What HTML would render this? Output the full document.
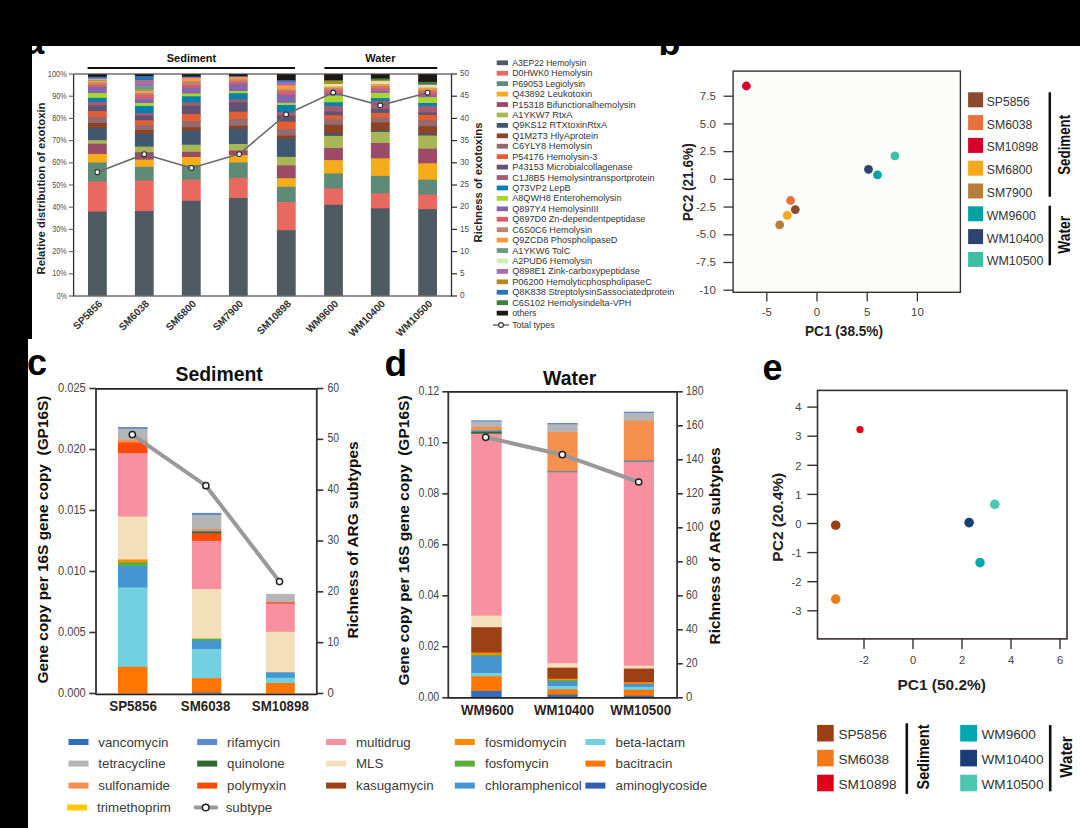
<!DOCTYPE html>
<html><head><meta charset="utf-8"><style>
html,body{margin:0;padding:0;background:#fff;}
body{width:1080px;height:828px;overflow:hidden;}
svg{display:block;font-family:"Liberation Sans", sans-serif;}
</style></head><body>
<svg width="1080" height="828" viewBox="0 0 1080 828" font-family='"Liberation Sans", sans-serif'>
<rect x="0" y="0" width="1080" height="828" fill="#fff"/>
<line x1="74.00" y1="74.00" x2="451.50" y2="74.00" stroke="#6e6e6e" stroke-width="1.3" />
<rect x="88.00" y="74.20" width="18.80" height="3.20" fill="#1B1815" />
<rect x="88.00" y="76.70" width="18.80" height="1.80" fill="#2B72B5" />
<rect x="88.00" y="77.80" width="18.80" height="2.10" fill="#A76BB0" />
<rect x="88.00" y="79.20" width="18.80" height="1.10" fill="#D2ECB4" />
<rect x="88.00" y="79.60" width="18.80" height="1.70" fill="#6C9C82" />
<rect x="88.00" y="80.60" width="18.80" height="2.80" fill="#F99A3C" />
<rect x="88.00" y="82.70" width="18.80" height="2.90" fill="#BD8574" />
<rect x="88.00" y="84.90" width="18.80" height="2.70" fill="#D95D6E" />
<rect x="88.00" y="86.90" width="18.80" height="6.80" fill="#8466AC" />
<rect x="88.00" y="93.00" width="18.80" height="5.60" fill="#A8D530" />
<rect x="88.00" y="97.90" width="18.80" height="4.70" fill="#0A80AA" />
<rect x="88.00" y="101.90" width="18.80" height="4.50" fill="#A35C73" />
<rect x="88.00" y="105.70" width="18.80" height="6.10" fill="#5E5472" />
<rect x="88.00" y="111.10" width="18.80" height="6.40" fill="#E45E34" />
<rect x="88.00" y="116.80" width="18.80" height="6.80" fill="#976A6E" />
<rect x="88.00" y="122.90" width="18.80" height="5.70" fill="#8C4426" />
<rect x="88.00" y="127.90" width="18.80" height="13.00" fill="#3F5870" />
<rect x="88.00" y="140.20" width="18.80" height="4.20" fill="#A8B656" />
<rect x="88.00" y="143.70" width="18.80" height="11.00" fill="#9B4B68" />
<rect x="88.00" y="154.00" width="18.80" height="9.20" fill="#F5AB1A" />
<rect x="88.00" y="162.50" width="18.80" height="19.70" fill="#5E8B77" />
<rect x="88.00" y="181.50" width="18.80" height="30.80" fill="#E8695F" />
<rect x="88.00" y="211.60" width="18.80" height="84.40" fill="#4F5B62" />
<rect x="134.90" y="74.20" width="18.80" height="2.50" fill="#1B1815" />
<rect x="134.90" y="76.00" width="18.80" height="4.70" fill="#2B72B5" />
<rect x="134.90" y="80.00" width="18.80" height="1.40" fill="#B98620" />
<rect x="134.90" y="80.70" width="18.80" height="5.80" fill="#A76BB0" />
<rect x="134.90" y="85.80" width="18.80" height="5.40" fill="#6C9C82" />
<rect x="134.90" y="90.50" width="18.80" height="3.20" fill="#F99A3C" />
<rect x="134.90" y="93.00" width="18.80" height="2.50" fill="#BD8574" />
<rect x="134.90" y="94.80" width="18.80" height="4.70" fill="#D95D6E" />
<rect x="134.90" y="98.80" width="18.80" height="4.90" fill="#8466AC" />
<rect x="134.90" y="103.00" width="18.80" height="3.70" fill="#A8D530" />
<rect x="134.90" y="106.00" width="18.80" height="7.90" fill="#0A80AA" />
<rect x="134.90" y="113.20" width="18.80" height="3.00" fill="#A35C73" />
<rect x="134.90" y="115.50" width="18.80" height="5.40" fill="#5E5472" />
<rect x="134.90" y="120.20" width="18.80" height="5.40" fill="#E45E34" />
<rect x="134.90" y="124.90" width="18.80" height="5.70" fill="#976A6E" />
<rect x="134.90" y="129.90" width="18.80" height="4.60" fill="#8C4426" />
<rect x="134.90" y="133.80" width="18.80" height="13.50" fill="#3F5870" />
<rect x="134.90" y="146.60" width="18.80" height="6.30" fill="#A8B656" />
<rect x="134.90" y="152.20" width="18.80" height="8.10" fill="#9B4B68" />
<rect x="134.90" y="159.60" width="18.80" height="8.00" fill="#F5AB1A" />
<rect x="134.90" y="166.90" width="18.80" height="14.20" fill="#5E8B77" />
<rect x="134.90" y="180.40" width="18.80" height="31.40" fill="#E8695F" />
<rect x="134.90" y="211.10" width="18.80" height="84.90" fill="#4F5B62" />
<rect x="181.90" y="74.20" width="18.80" height="3.00" fill="#1B1815" />
<rect x="181.90" y="76.50" width="18.80" height="1.20" fill="#2B72B5" />
<rect x="181.90" y="77.00" width="18.80" height="1.90" fill="#A76BB0" />
<rect x="181.90" y="78.20" width="18.80" height="3.80" fill="#F99A3C" />
<rect x="181.90" y="81.30" width="18.80" height="4.30" fill="#BD8574" />
<rect x="181.90" y="84.90" width="18.80" height="3.40" fill="#D95D6E" />
<rect x="181.90" y="87.60" width="18.80" height="6.70" fill="#8466AC" />
<rect x="181.90" y="93.60" width="18.80" height="3.40" fill="#A8D530" />
<rect x="181.90" y="96.30" width="18.80" height="6.80" fill="#0A80AA" />
<rect x="181.90" y="102.40" width="18.80" height="4.00" fill="#A35C73" />
<rect x="181.90" y="105.70" width="18.80" height="9.00" fill="#5E5472" />
<rect x="181.90" y="114.00" width="18.80" height="7.80" fill="#E45E34" />
<rect x="181.90" y="121.10" width="18.80" height="6.90" fill="#976A6E" />
<rect x="181.90" y="127.30" width="18.80" height="4.10" fill="#8C4426" />
<rect x="181.90" y="130.70" width="18.80" height="14.70" fill="#3F5870" />
<rect x="181.90" y="144.70" width="18.80" height="7.80" fill="#A8B656" />
<rect x="181.90" y="151.80" width="18.80" height="5.90" fill="#9B4B68" />
<rect x="181.90" y="157.00" width="18.80" height="8.90" fill="#F5AB1A" />
<rect x="181.90" y="165.20" width="18.80" height="15.10" fill="#5E8B77" />
<rect x="181.90" y="179.60" width="18.80" height="21.90" fill="#E8695F" />
<rect x="181.90" y="200.80" width="18.80" height="95.20" fill="#4F5B62" />
<rect x="228.90" y="74.20" width="18.80" height="2.70" fill="#1B1815" />
<rect x="228.90" y="76.20" width="18.80" height="1.00" fill="#2B72B5" />
<rect x="228.90" y="76.50" width="18.80" height="1.40" fill="#A76BB0" />
<rect x="228.90" y="77.20" width="18.80" height="2.90" fill="#F99A3C" />
<rect x="228.90" y="79.40" width="18.80" height="3.10" fill="#BD8574" />
<rect x="228.90" y="81.80" width="18.80" height="2.90" fill="#D95D6E" />
<rect x="228.90" y="84.00" width="18.80" height="7.70" fill="#8466AC" />
<rect x="228.90" y="91.00" width="18.80" height="2.90" fill="#A8D530" />
<rect x="228.90" y="93.20" width="18.80" height="7.00" fill="#0A80AA" />
<rect x="228.90" y="99.50" width="18.80" height="3.60" fill="#A35C73" />
<rect x="228.90" y="102.40" width="18.80" height="10.00" fill="#5E5472" />
<rect x="228.90" y="111.70" width="18.80" height="7.70" fill="#E45E34" />
<rect x="228.90" y="118.70" width="18.80" height="7.80" fill="#976A6E" />
<rect x="228.90" y="125.80" width="18.80" height="3.70" fill="#8C4426" />
<rect x="228.90" y="128.80" width="18.80" height="15.90" fill="#3F5870" />
<rect x="228.90" y="144.00" width="18.80" height="7.20" fill="#A8B656" />
<rect x="228.90" y="150.50" width="18.80" height="5.30" fill="#9B4B68" />
<rect x="228.90" y="155.10" width="18.80" height="8.10" fill="#F5AB1A" />
<rect x="228.90" y="162.50" width="18.80" height="16.00" fill="#5E8B77" />
<rect x="228.90" y="177.80" width="18.80" height="21.00" fill="#E8695F" />
<rect x="228.90" y="198.10" width="18.80" height="97.90" fill="#4F5B62" />
<rect x="276.90" y="74.20" width="18.80" height="6.60" fill="#1B1815" />
<rect x="276.90" y="80.10" width="18.80" height="2.40" fill="#2B72B5" />
<rect x="276.90" y="81.80" width="18.80" height="4.30" fill="#A76BB0" />
<rect x="276.90" y="85.40" width="18.80" height="4.70" fill="#F99A3C" />
<rect x="276.90" y="89.40" width="18.80" height="2.30" fill="#BD8574" />
<rect x="276.90" y="91.00" width="18.80" height="4.30" fill="#D95D6E" />
<rect x="276.90" y="94.60" width="18.80" height="8.90" fill="#8466AC" />
<rect x="276.90" y="102.80" width="18.80" height="2.90" fill="#A8D530" />
<rect x="276.90" y="105.00" width="18.80" height="7.60" fill="#0A80AA" />
<rect x="276.90" y="111.90" width="18.80" height="4.60" fill="#A35C73" />
<rect x="276.90" y="115.80" width="18.80" height="6.50" fill="#5E5472" />
<rect x="276.90" y="121.60" width="18.80" height="8.30" fill="#E45E34" />
<rect x="276.90" y="129.20" width="18.80" height="7.20" fill="#976A6E" />
<rect x="276.90" y="135.70" width="18.80" height="3.80" fill="#8C4426" />
<rect x="276.90" y="138.80" width="18.80" height="18.80" fill="#3F5870" />
<rect x="276.90" y="156.90" width="18.80" height="9.20" fill="#A8B656" />
<rect x="276.90" y="165.40" width="18.80" height="13.50" fill="#9B4B68" />
<rect x="276.90" y="178.20" width="18.80" height="9.30" fill="#F5AB1A" />
<rect x="276.90" y="186.80" width="18.80" height="16.00" fill="#5E8B77" />
<rect x="276.90" y="202.10" width="18.80" height="28.80" fill="#E8695F" />
<rect x="276.90" y="230.20" width="18.80" height="65.80" fill="#4F5B62" />
<rect x="324.10" y="74.20" width="18.80" height="6.50" fill="#1B1815" />
<rect x="324.10" y="80.00" width="18.80" height="1.80" fill="#3E7E3A" />
<rect x="324.10" y="81.10" width="18.80" height="3.60" fill="#B98620" />
<rect x="324.10" y="84.00" width="18.80" height="3.20" fill="#D2ECB4" />
<rect x="324.10" y="86.50" width="18.80" height="2.30" fill="#F99A3C" />
<rect x="324.10" y="88.10" width="18.80" height="2.70" fill="#BD8574" />
<rect x="324.10" y="90.10" width="18.80" height="3.60" fill="#D95D6E" />
<rect x="324.10" y="93.00" width="18.80" height="3.30" fill="#8466AC" />
<rect x="324.10" y="95.60" width="18.80" height="7.40" fill="#A8D530" />
<rect x="324.10" y="102.30" width="18.80" height="4.50" fill="#0A80AA" />
<rect x="324.10" y="106.10" width="18.80" height="6.10" fill="#A35C73" />
<rect x="324.10" y="111.50" width="18.80" height="4.50" fill="#5E5472" />
<rect x="324.10" y="115.30" width="18.80" height="4.50" fill="#E45E34" />
<rect x="324.10" y="119.10" width="18.80" height="6.40" fill="#976A6E" />
<rect x="324.10" y="124.80" width="18.80" height="9.60" fill="#8C4426" />
<rect x="324.10" y="133.70" width="18.80" height="2.90" fill="#3F5870" />
<rect x="324.10" y="135.90" width="18.80" height="12.80" fill="#A8B656" />
<rect x="324.10" y="148.00" width="18.80" height="12.80" fill="#9B4B68" />
<rect x="324.10" y="160.10" width="18.80" height="14.10" fill="#F5AB1A" />
<rect x="324.10" y="173.50" width="18.80" height="15.60" fill="#5E8B77" />
<rect x="324.10" y="188.40" width="18.80" height="17.10" fill="#E8695F" />
<rect x="324.10" y="204.80" width="18.80" height="91.20" fill="#4F5B62" />
<rect x="370.90" y="74.20" width="18.80" height="4.90" fill="#1B1815" />
<rect x="370.90" y="78.40" width="18.80" height="2.10" fill="#3E7E3A" />
<rect x="370.90" y="79.80" width="18.80" height="2.00" fill="#B98620" />
<rect x="370.90" y="81.10" width="18.80" height="3.60" fill="#D2ECB4" />
<rect x="370.90" y="84.00" width="18.80" height="2.70" fill="#F99A3C" />
<rect x="370.90" y="86.00" width="18.80" height="2.50" fill="#BD8574" />
<rect x="370.90" y="87.80" width="18.80" height="3.60" fill="#D95D6E" />
<rect x="370.90" y="90.70" width="18.80" height="2.90" fill="#8466AC" />
<rect x="370.90" y="92.90" width="18.80" height="5.90" fill="#A8D530" />
<rect x="370.90" y="98.10" width="18.80" height="3.70" fill="#0A80AA" />
<rect x="370.90" y="101.10" width="18.80" height="8.40" fill="#A35C73" />
<rect x="370.90" y="108.80" width="18.80" height="4.80" fill="#5E5472" />
<rect x="370.90" y="112.90" width="18.80" height="5.30" fill="#E45E34" />
<rect x="370.90" y="117.50" width="18.80" height="5.60" fill="#976A6E" />
<rect x="370.90" y="122.40" width="18.80" height="8.70" fill="#8C4426" />
<rect x="370.90" y="130.40" width="18.80" height="2.20" fill="#3F5870" />
<rect x="370.90" y="131.90" width="18.80" height="11.80" fill="#A8B656" />
<rect x="370.90" y="143.00" width="18.80" height="16.00" fill="#9B4B68" />
<rect x="370.90" y="158.30" width="18.80" height="18.30" fill="#F5AB1A" />
<rect x="370.90" y="175.90" width="18.80" height="18.10" fill="#5E8B77" />
<rect x="370.90" y="193.30" width="18.80" height="15.70" fill="#E8695F" />
<rect x="370.90" y="208.30" width="18.80" height="87.70" fill="#4F5B62" />
<rect x="418.20" y="74.20" width="18.80" height="8.30" fill="#1B1815" />
<rect x="418.20" y="81.80" width="18.80" height="2.90" fill="#3E7E3A" />
<rect x="418.20" y="84.00" width="18.80" height="1.70" fill="#A76BB0" />
<rect x="418.20" y="85.00" width="18.80" height="3.30" fill="#D2ECB4" />
<rect x="418.20" y="87.60" width="18.80" height="2.90" fill="#F99A3C" />
<rect x="418.20" y="89.80" width="18.80" height="2.80" fill="#BD8574" />
<rect x="418.20" y="91.90" width="18.80" height="4.10" fill="#D95D6E" />
<rect x="418.20" y="95.30" width="18.80" height="2.60" fill="#8466AC" />
<rect x="418.20" y="97.20" width="18.80" height="6.50" fill="#A8D530" />
<rect x="418.20" y="103.00" width="18.80" height="3.90" fill="#0A80AA" />
<rect x="418.20" y="106.20" width="18.80" height="6.90" fill="#A35C73" />
<rect x="418.20" y="112.40" width="18.80" height="3.20" fill="#5E5472" />
<rect x="418.20" y="114.90" width="18.80" height="5.80" fill="#E45E34" />
<rect x="418.20" y="120.00" width="18.80" height="6.80" fill="#976A6E" />
<rect x="418.20" y="126.10" width="18.80" height="8.40" fill="#8C4426" />
<rect x="418.20" y="133.80" width="18.80" height="2.40" fill="#3F5870" />
<rect x="418.20" y="135.50" width="18.80" height="13.80" fill="#A8B656" />
<rect x="418.20" y="148.60" width="18.80" height="15.40" fill="#9B4B68" />
<rect x="418.20" y="163.30" width="18.80" height="17.10" fill="#F5AB1A" />
<rect x="418.20" y="179.70" width="18.80" height="15.60" fill="#5E8B77" />
<rect x="418.20" y="194.60" width="18.80" height="15.20" fill="#E8695F" />
<rect x="418.20" y="209.10" width="18.80" height="86.90" fill="#4F5B62" />
<line x1="74.00" y1="296.00" x2="451.50" y2="296.00" stroke="#6e6e6e" stroke-width="1.3" />
<line x1="73.60" y1="74.00" x2="73.60" y2="296.60" stroke="#2e2e2e" stroke-width="1.3" />
<line x1="451.50" y1="74.00" x2="451.50" y2="296.60" stroke="#2e2e2e" stroke-width="1.3" />
<line x1="69.00" y1="296.00" x2="73.60" y2="296.00" stroke="#6e6e6e" stroke-width="1.2" />
<text x="66.80" y="298.60" font-size="8.3" fill="#4a4a4a" text-anchor="end" textLength="10" lengthAdjust="spacingAndGlyphs" >0%</text>
<line x1="69.00" y1="273.80" x2="73.60" y2="273.80" stroke="#6e6e6e" stroke-width="1.2" />
<text x="66.80" y="276.40" font-size="8.3" fill="#4a4a4a" text-anchor="end" textLength="14.5" lengthAdjust="spacingAndGlyphs" >10%</text>
<line x1="69.00" y1="251.60" x2="73.60" y2="251.60" stroke="#6e6e6e" stroke-width="1.2" />
<text x="66.80" y="254.20" font-size="8.3" fill="#4a4a4a" text-anchor="end" textLength="14.5" lengthAdjust="spacingAndGlyphs" >20%</text>
<line x1="69.00" y1="229.40" x2="73.60" y2="229.40" stroke="#6e6e6e" stroke-width="1.2" />
<text x="66.80" y="232.00" font-size="8.3" fill="#4a4a4a" text-anchor="end" textLength="14.5" lengthAdjust="spacingAndGlyphs" >30%</text>
<line x1="69.00" y1="207.20" x2="73.60" y2="207.20" stroke="#6e6e6e" stroke-width="1.2" />
<text x="66.80" y="209.80" font-size="8.3" fill="#4a4a4a" text-anchor="end" textLength="14.5" lengthAdjust="spacingAndGlyphs" >40%</text>
<line x1="69.00" y1="185.00" x2="73.60" y2="185.00" stroke="#6e6e6e" stroke-width="1.2" />
<text x="66.80" y="187.60" font-size="8.3" fill="#4a4a4a" text-anchor="end" textLength="14.5" lengthAdjust="spacingAndGlyphs" >50%</text>
<line x1="69.00" y1="162.80" x2="73.60" y2="162.80" stroke="#6e6e6e" stroke-width="1.2" />
<text x="66.80" y="165.40" font-size="8.3" fill="#4a4a4a" text-anchor="end" textLength="14.5" lengthAdjust="spacingAndGlyphs" >60%</text>
<line x1="69.00" y1="140.60" x2="73.60" y2="140.60" stroke="#6e6e6e" stroke-width="1.2" />
<text x="66.80" y="143.20" font-size="8.3" fill="#4a4a4a" text-anchor="end" textLength="14.5" lengthAdjust="spacingAndGlyphs" >70%</text>
<line x1="69.00" y1="118.40" x2="73.60" y2="118.40" stroke="#6e6e6e" stroke-width="1.2" />
<text x="66.80" y="121.00" font-size="8.3" fill="#4a4a4a" text-anchor="end" textLength="14.5" lengthAdjust="spacingAndGlyphs" >80%</text>
<line x1="69.00" y1="96.20" x2="73.60" y2="96.20" stroke="#6e6e6e" stroke-width="1.2" />
<text x="66.80" y="98.80" font-size="8.3" fill="#4a4a4a" text-anchor="end" textLength="14.5" lengthAdjust="spacingAndGlyphs" >90%</text>
<line x1="69.00" y1="74.00" x2="73.60" y2="74.00" stroke="#6e6e6e" stroke-width="1.2" />
<text x="66.80" y="76.60" font-size="8.3" fill="#4a4a4a" text-anchor="end" textLength="19" lengthAdjust="spacingAndGlyphs" >100%</text>
<line x1="451.50" y1="296.00" x2="457.00" y2="296.00" stroke="#2e2e2e" stroke-width="1.2" />
<text x="460.00" y="298.20" font-size="8.3" fill="#4a4a4a" text-anchor="start" textLength="4.6" lengthAdjust="spacingAndGlyphs" >0</text>
<line x1="451.50" y1="273.80" x2="457.00" y2="273.80" stroke="#2e2e2e" stroke-width="1.2" />
<text x="460.00" y="276.00" font-size="8.3" fill="#4a4a4a" text-anchor="start" textLength="4.6" lengthAdjust="spacingAndGlyphs" >5</text>
<line x1="451.50" y1="251.60" x2="457.00" y2="251.60" stroke="#2e2e2e" stroke-width="1.2" />
<text x="460.00" y="253.80" font-size="8.3" fill="#4a4a4a" text-anchor="start" textLength="9" lengthAdjust="spacingAndGlyphs" >10</text>
<line x1="451.50" y1="229.40" x2="457.00" y2="229.40" stroke="#2e2e2e" stroke-width="1.2" />
<text x="460.00" y="231.60" font-size="8.3" fill="#4a4a4a" text-anchor="start" textLength="9" lengthAdjust="spacingAndGlyphs" >15</text>
<line x1="451.50" y1="207.20" x2="457.00" y2="207.20" stroke="#2e2e2e" stroke-width="1.2" />
<text x="460.00" y="209.40" font-size="8.3" fill="#4a4a4a" text-anchor="start" textLength="9" lengthAdjust="spacingAndGlyphs" >20</text>
<line x1="451.50" y1="185.00" x2="457.00" y2="185.00" stroke="#2e2e2e" stroke-width="1.2" />
<text x="460.00" y="187.20" font-size="8.3" fill="#4a4a4a" text-anchor="start" textLength="9" lengthAdjust="spacingAndGlyphs" >25</text>
<line x1="451.50" y1="162.80" x2="457.00" y2="162.80" stroke="#2e2e2e" stroke-width="1.2" />
<text x="460.00" y="165.00" font-size="8.3" fill="#4a4a4a" text-anchor="start" textLength="9" lengthAdjust="spacingAndGlyphs" >30</text>
<line x1="451.50" y1="140.60" x2="457.00" y2="140.60" stroke="#2e2e2e" stroke-width="1.2" />
<text x="460.00" y="142.80" font-size="8.3" fill="#4a4a4a" text-anchor="start" textLength="9" lengthAdjust="spacingAndGlyphs" >35</text>
<line x1="451.50" y1="118.40" x2="457.00" y2="118.40" stroke="#2e2e2e" stroke-width="1.2" />
<text x="460.00" y="120.60" font-size="8.3" fill="#4a4a4a" text-anchor="start" textLength="9" lengthAdjust="spacingAndGlyphs" >40</text>
<line x1="451.50" y1="96.20" x2="457.00" y2="96.20" stroke="#2e2e2e" stroke-width="1.2" />
<text x="460.00" y="98.40" font-size="8.3" fill="#4a4a4a" text-anchor="start" textLength="9" lengthAdjust="spacingAndGlyphs" >45</text>
<line x1="451.50" y1="74.00" x2="457.00" y2="74.00" stroke="#2e2e2e" stroke-width="1.2" />
<text x="460.00" y="76.20" font-size="8.3" fill="#4a4a4a" text-anchor="start" textLength="9" lengthAdjust="spacingAndGlyphs" >50</text>
<polyline points="97.3,172.2 144.2,154.2 191.4,167.9 239.2,154.1 286.1,114.4 333.2,92.5 380.3,105.3 427.6,92.7" fill="none" stroke="#6b6b6b" stroke-width="1.6"/>
<circle cx="97.30" cy="172.20" r="2.4" fill="#fff" stroke="#2a2a2a" stroke-width="1.1"/>
<circle cx="144.20" cy="154.20" r="2.4" fill="#fff" stroke="#2a2a2a" stroke-width="1.1"/>
<circle cx="191.40" cy="167.90" r="2.4" fill="#fff" stroke="#2a2a2a" stroke-width="1.1"/>
<circle cx="239.20" cy="154.10" r="2.4" fill="#fff" stroke="#2a2a2a" stroke-width="1.1"/>
<circle cx="286.10" cy="114.40" r="2.4" fill="#fff" stroke="#2a2a2a" stroke-width="1.1"/>
<circle cx="333.20" cy="92.50" r="2.4" fill="#fff" stroke="#2a2a2a" stroke-width="1.1"/>
<circle cx="380.30" cy="105.30" r="2.4" fill="#fff" stroke="#2a2a2a" stroke-width="1.1"/>
<circle cx="427.60" cy="92.70" r="2.4" fill="#fff" stroke="#2a2a2a" stroke-width="1.1"/>
<text x="191.50" y="61.50" font-size="11" fill="#111" text-anchor="middle" font-weight="bold" >Sediment</text>
<line x1="87.60" y1="68.00" x2="295.00" y2="68.00" stroke="#111" stroke-width="2" />
<text x="380.40" y="61.50" font-size="11" fill="#111" text-anchor="middle" font-weight="bold" >Water</text>
<line x1="324.40" y1="68.00" x2="437.30" y2="68.00" stroke="#111" stroke-width="2" />
<text transform="translate(45.2,188.5) rotate(-90)" font-size="11.3" font-weight="bold" fill="#222" text-anchor="middle">Relative distribution of exotoxin</text>
<text transform="translate(482,182.5) rotate(-90)" font-size="11.3" font-weight="bold" fill="#222" text-anchor="middle">Richness of exotoxins</text>
<text transform="translate(102.9,304.5) rotate(-45)" font-size="10.2" font-weight="bold" fill="#333" text-anchor="end">SP5856</text>
<text transform="translate(149.8,304.5) rotate(-45)" font-size="10.2" font-weight="bold" fill="#333" text-anchor="end">SM6038</text>
<text transform="translate(196.8,304.5) rotate(-45)" font-size="10.2" font-weight="bold" fill="#333" text-anchor="end">SM6800</text>
<text transform="translate(243.8,304.5) rotate(-45)" font-size="10.2" font-weight="bold" fill="#333" text-anchor="end">SM7900</text>
<text transform="translate(291.8,304.5) rotate(-45)" font-size="10.2" font-weight="bold" fill="#333" text-anchor="end">SM10898</text>
<text transform="translate(339.0,304.5) rotate(-45)" font-size="10.2" font-weight="bold" fill="#333" text-anchor="end">WM9600</text>
<text transform="translate(385.8,304.5) rotate(-45)" font-size="10.2" font-weight="bold" fill="#333" text-anchor="end">WM10400</text>
<text transform="translate(433.1,304.5) rotate(-45)" font-size="10.2" font-weight="bold" fill="#333" text-anchor="end">WM10500</text>
<rect x="496.70" y="60.40" width="11.30" height="4.80" fill="#4F5B62" />
<text x="512.20" y="65.80" font-size="8.6" fill="#333" text-anchor="start" textLength="74.1" lengthAdjust="spacingAndGlyphs" >A3EP22 Hemolysin</text>
<rect x="496.70" y="70.83" width="11.30" height="4.80" fill="#E8695F" />
<text x="512.20" y="76.23" font-size="8.6" fill="#333" text-anchor="start" textLength="80.3" lengthAdjust="spacingAndGlyphs" >D0HWK0 Hemolysin</text>
<rect x="496.70" y="81.26" width="11.30" height="4.80" fill="#5E8B77" />
<text x="512.20" y="86.66" font-size="8.6" fill="#333" text-anchor="start" textLength="72.9" lengthAdjust="spacingAndGlyphs" >P69053 Legiolysin</text>
<rect x="496.70" y="91.69" width="11.30" height="4.80" fill="#F5AB1A" />
<text x="512.20" y="97.09" font-size="8.6" fill="#333" text-anchor="start" textLength="79.9" lengthAdjust="spacingAndGlyphs" >Q43892 Leukotoxin</text>
<rect x="496.70" y="102.12" width="11.30" height="4.80" fill="#9B4B68" />
<text x="512.20" y="107.52" font-size="8.6" fill="#333" text-anchor="start" textLength="123.4" lengthAdjust="spacingAndGlyphs" >P15318 Bifunctionalhemolysin</text>
<rect x="496.70" y="112.55" width="11.30" height="4.80" fill="#A8B656" />
<text x="512.20" y="117.95" font-size="8.6" fill="#333" text-anchor="start" textLength="60.2" lengthAdjust="spacingAndGlyphs" >A1YKW7 RtxA</text>
<rect x="496.70" y="122.98" width="11.30" height="4.80" fill="#3F5870" />
<text x="512.20" y="128.38" font-size="8.6" fill="#333" text-anchor="start" textLength="94.9" lengthAdjust="spacingAndGlyphs" >Q9KS12 RTXtoxinRtxA</text>
<rect x="496.70" y="133.41" width="11.30" height="4.80" fill="#8C4426" />
<text x="512.20" y="138.81" font-size="8.6" fill="#333" text-anchor="start" textLength="85.9" lengthAdjust="spacingAndGlyphs" >Q1M2T3 HlyAprotein</text>
<rect x="496.70" y="143.84" width="11.30" height="4.80" fill="#976A6E" />
<text x="512.20" y="149.24" font-size="8.6" fill="#333" text-anchor="start" textLength="79.9" lengthAdjust="spacingAndGlyphs" >C6YLY8 Hemolysin</text>
<rect x="496.70" y="154.27" width="11.30" height="4.80" fill="#E45E34" />
<text x="512.20" y="159.67" font-size="8.6" fill="#333" text-anchor="start" textLength="85.2" lengthAdjust="spacingAndGlyphs" >P54176 Hemolysin-3</text>
<rect x="496.70" y="164.70" width="11.30" height="4.80" fill="#5E5472" />
<text x="512.20" y="170.10" font-size="8.6" fill="#333" text-anchor="start" textLength="120.4" lengthAdjust="spacingAndGlyphs" >P43153 Microbialcollagenase</text>
<rect x="496.70" y="175.13" width="11.30" height="4.80" fill="#A35C73" />
<text x="512.20" y="180.53" font-size="8.6" fill="#333" text-anchor="start" textLength="142.4" lengthAdjust="spacingAndGlyphs" >C1J8B5 Hemolysintransportprotein</text>
<rect x="496.70" y="185.56" width="11.30" height="4.80" fill="#0A80AA" />
<text x="512.20" y="190.96" font-size="8.6" fill="#333" text-anchor="start" textLength="58.4" lengthAdjust="spacingAndGlyphs" >Q73VP2 LepB</text>
<rect x="496.70" y="195.99" width="11.30" height="4.80" fill="#A8D530" />
<text x="512.20" y="201.39" font-size="8.6" fill="#333" text-anchor="start" textLength="109.3" lengthAdjust="spacingAndGlyphs" >A8QWH8 Enterohemolysin</text>
<rect x="496.70" y="206.42" width="11.30" height="4.80" fill="#8466AC" />
<text x="512.20" y="211.82" font-size="8.6" fill="#333" text-anchor="start" textLength="86.4" lengthAdjust="spacingAndGlyphs" >Q897Y4 HemolysinIII</text>
<rect x="496.70" y="216.85" width="11.30" height="4.80" fill="#D95D6E" />
<text x="512.20" y="222.25" font-size="8.6" fill="#333" text-anchor="start" textLength="133.1" lengthAdjust="spacingAndGlyphs" >Q897D0 Zn-dependentpeptidase</text>
<rect x="496.70" y="227.28" width="11.30" height="4.80" fill="#BD8574" />
<text x="512.20" y="232.68" font-size="8.6" fill="#333" text-anchor="start" textLength="79.9" lengthAdjust="spacingAndGlyphs" >C6S0C6 Hemolysin</text>
<rect x="496.70" y="237.71" width="11.30" height="4.80" fill="#F99A3C" />
<text x="512.20" y="243.11" font-size="8.6" fill="#333" text-anchor="start" textLength="105.3" lengthAdjust="spacingAndGlyphs" >Q9ZCD8 PhospholipaseD</text>
<rect x="496.70" y="248.14" width="11.30" height="4.80" fill="#6C9C82" />
<text x="512.20" y="253.54" font-size="8.6" fill="#333" text-anchor="start" textLength="58.1" lengthAdjust="spacingAndGlyphs" >A1YKW6 TolC</text>
<rect x="496.70" y="258.57" width="11.30" height="4.80" fill="#D2ECB4" />
<text x="512.20" y="263.97" font-size="8.6" fill="#333" text-anchor="start" textLength="79.9" lengthAdjust="spacingAndGlyphs" >A2PUD6 Hemolysin</text>
<rect x="496.70" y="269.00" width="11.30" height="4.80" fill="#A76BB0" />
<text x="512.20" y="274.40" font-size="8.6" fill="#333" text-anchor="start" textLength="127.6" lengthAdjust="spacingAndGlyphs" >Q898E1 Zink-carboxypeptidase</text>
<rect x="496.70" y="279.43" width="11.30" height="4.80" fill="#B98620" />
<text x="512.20" y="284.83" font-size="8.6" fill="#333" text-anchor="start" textLength="139.6" lengthAdjust="spacingAndGlyphs" >P06200 HemolyticphospholipaseC</text>
<rect x="496.70" y="289.86" width="11.30" height="4.80" fill="#2B72B5" />
<text x="512.20" y="295.26" font-size="8.6" fill="#333" text-anchor="start" textLength="162.1" lengthAdjust="spacingAndGlyphs" >Q8K838 StreptolysinSassociatedprotein</text>
<rect x="496.70" y="300.29" width="11.30" height="4.80" fill="#3E7E3A" />
<text x="512.20" y="305.69" font-size="8.6" fill="#333" text-anchor="start" textLength="119.2" lengthAdjust="spacingAndGlyphs" >C6S102 Hemolysindelta-VPH</text>
<rect x="496.70" y="310.72" width="11.30" height="4.80" fill="#1B1815" />
<text x="512.20" y="316.12" font-size="8.6" fill="#333" text-anchor="start" textLength="24.3" lengthAdjust="spacingAndGlyphs" >others</text>
<line x1="493.00" y1="325.00" x2="509.00" y2="325.00" stroke="#333" stroke-width="1.1" />
<circle cx="501.00" cy="325.00" r="2.4" fill="#fff" stroke="#333" stroke-width="1.1"/>
<text x="512.20" y="328.00" font-size="8.6" fill="#333" text-anchor="start" textLength="42.4" lengthAdjust="spacingAndGlyphs" >Total types</text>
<rect x="733.10" y="71.10" width="227.30" height="221.20" fill="#FCFCFA" stroke="#333" stroke-width="1.4"/>
<line x1="723.50" y1="96.20" x2="733.10" y2="96.20" stroke="#333" stroke-width="1.3" />
<text x="715.80" y="99.80" font-size="11.5" fill="#444" text-anchor="end" >7.5</text>
<line x1="723.50" y1="123.92" x2="733.10" y2="123.92" stroke="#333" stroke-width="1.3" />
<text x="715.80" y="127.52" font-size="11.5" fill="#444" text-anchor="end" >5.0</text>
<line x1="723.50" y1="151.63" x2="733.10" y2="151.63" stroke="#333" stroke-width="1.3" />
<text x="715.80" y="155.23" font-size="11.5" fill="#444" text-anchor="end" >2.5</text>
<line x1="723.50" y1="179.35" x2="733.10" y2="179.35" stroke="#333" stroke-width="1.3" />
<text x="715.80" y="182.95" font-size="11.5" fill="#444" text-anchor="end" >0</text>
<line x1="723.50" y1="207.06" x2="733.10" y2="207.06" stroke="#333" stroke-width="1.3" />
<text x="715.80" y="210.66" font-size="11.5" fill="#444" text-anchor="end" >-2.5</text>
<line x1="723.50" y1="234.78" x2="733.10" y2="234.78" stroke="#333" stroke-width="1.3" />
<text x="715.80" y="238.38" font-size="11.5" fill="#444" text-anchor="end" >-5.0</text>
<line x1="723.50" y1="262.50" x2="733.10" y2="262.50" stroke="#333" stroke-width="1.3" />
<text x="715.80" y="266.10" font-size="11.5" fill="#444" text-anchor="end" >-7.5</text>
<line x1="723.50" y1="290.21" x2="733.10" y2="290.21" stroke="#333" stroke-width="1.3" />
<text x="715.80" y="293.81" font-size="11.5" fill="#444" text-anchor="end" >-10</text>
<line x1="766.80" y1="292.30" x2="766.80" y2="301.60" stroke="#333" stroke-width="1.3" />
<text x="766.80" y="316.00" font-size="11.5" fill="#444" text-anchor="middle" >-5</text>
<line x1="817.00" y1="292.30" x2="817.00" y2="301.60" stroke="#333" stroke-width="1.3" />
<text x="817.00" y="316.00" font-size="11.5" fill="#444" text-anchor="middle" >0</text>
<line x1="867.20" y1="292.30" x2="867.20" y2="301.60" stroke="#333" stroke-width="1.3" />
<text x="867.20" y="316.00" font-size="11.5" fill="#444" text-anchor="middle" >5</text>
<line x1="917.40" y1="292.30" x2="917.40" y2="301.60" stroke="#333" stroke-width="1.3" />
<text x="917.40" y="316.00" font-size="11.5" fill="#444" text-anchor="middle" >10</text>
<circle cx="746.40" cy="86.00" r="4.4" fill="#D7002A" />
<circle cx="894.90" cy="155.90" r="4.4" fill="#3DBFA2" />
<circle cx="868.50" cy="169.30" r="4.4" fill="#2E4372" />
<circle cx="877.50" cy="174.80" r="4.4" fill="#00A3A3" />
<circle cx="790.60" cy="200.50" r="4.4" fill="#E8703A" />
<circle cx="795.30" cy="209.60" r="4.4" fill="#8B4A2B" />
<circle cx="787.30" cy="215.40" r="4.4" fill="#F5A81C" />
<circle cx="779.70" cy="224.80" r="4.4" fill="#B87D3A" />
<text x="844.00" y="336.30" font-size="14.5" fill="#222" text-anchor="middle" font-weight="bold" textLength="78" lengthAdjust="spacingAndGlyphs" >PC1 (38.5%)</text>
<text transform="translate(693,182.3) rotate(-90)" font-size="14.5" font-weight="bold" fill="#222" text-anchor="middle" textLength="78" lengthAdjust="spacingAndGlyphs">PC2 (21.6%)</text>
<rect x="968.10" y="92.30" width="15.00" height="15.00" fill="#8B4A2B" />
<text x="986.80" y="105.80" font-size="13.4" fill="#333" text-anchor="start" textLength="43" lengthAdjust="spacingAndGlyphs" >SP5856</text>
<rect x="968.10" y="115.10" width="15.00" height="15.00" fill="#E8703A" />
<text x="986.80" y="128.60" font-size="13.4" fill="#333" text-anchor="start" textLength="45.6" lengthAdjust="spacingAndGlyphs" >SM6038</text>
<rect x="968.10" y="137.90" width="15.00" height="15.00" fill="#D7002A" />
<text x="986.80" y="151.40" font-size="13.4" fill="#333" text-anchor="start" textLength="51.5" lengthAdjust="spacingAndGlyphs" >SM10898</text>
<rect x="968.10" y="160.70" width="15.00" height="15.00" fill="#F5A81C" />
<text x="986.80" y="174.20" font-size="13.4" fill="#333" text-anchor="start" textLength="45.6" lengthAdjust="spacingAndGlyphs" >SM6800</text>
<rect x="968.10" y="183.50" width="15.00" height="15.00" fill="#B87D3A" />
<text x="986.80" y="197.00" font-size="13.4" fill="#333" text-anchor="start" textLength="45.6" lengthAdjust="spacingAndGlyphs" >SM7900</text>
<rect x="968.10" y="206.30" width="15.00" height="15.00" fill="#00A3A3" />
<text x="986.80" y="219.80" font-size="13.4" fill="#333" text-anchor="start" textLength="49" lengthAdjust="spacingAndGlyphs" >WM9600</text>
<rect x="968.10" y="229.10" width="15.00" height="15.00" fill="#2E4372" />
<text x="986.80" y="242.60" font-size="13.4" fill="#333" text-anchor="start" textLength="56.6" lengthAdjust="spacingAndGlyphs" >WM10400</text>
<rect x="968.10" y="251.90" width="15.00" height="15.00" fill="#3DBFA2" />
<text x="986.80" y="265.40" font-size="13.4" fill="#333" text-anchor="start" textLength="56.6" lengthAdjust="spacingAndGlyphs" >WM10500</text>
<line x1="1049.80" y1="92.30" x2="1049.80" y2="196.80" stroke="#111" stroke-width="2.5" />
<line x1="1049.80" y1="205.70" x2="1049.80" y2="265.30" stroke="#111" stroke-width="2.5" />
<text transform="translate(1070,144.8) rotate(-90)" font-size="16" font-weight="bold" fill="#111" text-anchor="middle" textLength="60" lengthAdjust="spacingAndGlyphs">Sediment</text>
<text transform="translate(1070,234.8) rotate(-90)" font-size="16" font-weight="bold" fill="#111" text-anchor="middle" textLength="38" lengthAdjust="spacingAndGlyphs">Water</text>
<rect x="118.00" y="427.00" width="29.50" height="2.50" fill="#5B8BD0" />
<rect x="118.00" y="428.80" width="29.50" height="11.60" fill="#B5B5B5" />
<rect x="118.00" y="439.70" width="29.50" height="3.50" fill="#F5904F" />
<rect x="118.00" y="442.50" width="29.50" height="11.30" fill="#FF4A0A" />
<rect x="118.00" y="453.10" width="29.50" height="64.10" fill="#F7909F" />
<rect x="118.00" y="516.50" width="29.50" height="43.70" fill="#F5DFBB" />
<rect x="118.00" y="559.50" width="29.50" height="3.30" fill="#FF8A00" />
<rect x="118.00" y="562.10" width="29.50" height="4.60" fill="#5AAF3C" />
<rect x="118.00" y="566.00" width="29.50" height="22.10" fill="#4595D2" />
<rect x="118.00" y="587.40" width="29.50" height="80.10" fill="#72D0E0" />
<rect x="118.00" y="666.80" width="29.50" height="26.70" fill="#FF7700" />
<rect x="192.00" y="512.90" width="29.30" height="2.80" fill="#5B8BD0" />
<rect x="192.00" y="515.00" width="29.30" height="14.60" fill="#B5B5B5" />
<rect x="192.00" y="528.90" width="29.30" height="2.60" fill="#F5904F" />
<rect x="192.00" y="530.80" width="29.30" height="1.70" fill="#4595D2" />
<rect x="192.00" y="531.80" width="29.30" height="2.10" fill="#2E6B2E" />
<rect x="192.00" y="533.20" width="29.30" height="8.40" fill="#FF4A0A" />
<rect x="192.00" y="540.90" width="29.30" height="48.80" fill="#F7909F" />
<rect x="192.00" y="589.00" width="29.30" height="50.30" fill="#F5DFBB" />
<rect x="192.00" y="638.60" width="29.30" height="2.60" fill="#5AAF3C" />
<rect x="192.00" y="640.50" width="29.30" height="9.20" fill="#4595D2" />
<rect x="192.00" y="649.00" width="29.30" height="29.80" fill="#72D0E0" />
<rect x="192.00" y="678.10" width="29.30" height="15.10" fill="#FF7700" />
<rect x="192.00" y="692.50" width="29.30" height="1.00" fill="#2F6EBE" />
<rect x="266.00" y="593.90" width="28.80" height="9.10" fill="#B5B5B5" />
<rect x="266.00" y="602.30" width="28.80" height="2.00" fill="#FF4A0A" />
<rect x="266.00" y="603.60" width="28.80" height="28.90" fill="#F7909F" />
<rect x="266.00" y="631.80" width="28.80" height="41.20" fill="#F5DFBB" />
<rect x="266.00" y="672.30" width="28.80" height="6.20" fill="#4595D2" />
<rect x="266.00" y="677.80" width="28.80" height="5.90" fill="#72D0E0" />
<rect x="266.00" y="683.00" width="28.80" height="10.50" fill="#FF7700" />
<line x1="96.00" y1="388.80" x2="316.80" y2="388.80" stroke="#222" stroke-width="1.8" />
<line x1="96.00" y1="694.30" x2="316.80" y2="694.30" stroke="#222" stroke-width="1.8" />
<line x1="96.00" y1="388.50" x2="96.00" y2="695.00" stroke="#333" stroke-width="1.8" />
<line x1="316.80" y1="388.50" x2="316.80" y2="695.00" stroke="#333" stroke-width="1.8" />
<line x1="89.30" y1="693.50" x2="96.00" y2="693.50" stroke="#333" stroke-width="1.6" />
<text x="85.80" y="696.70" font-size="12" fill="#444" text-anchor="end" textLength="27.8" lengthAdjust="spacingAndGlyphs" >0.000</text>
<line x1="89.30" y1="632.50" x2="96.00" y2="632.50" stroke="#333" stroke-width="1.6" />
<text x="85.80" y="635.70" font-size="12" fill="#444" text-anchor="end" textLength="27.8" lengthAdjust="spacingAndGlyphs" >0.005</text>
<line x1="89.30" y1="571.50" x2="96.00" y2="571.50" stroke="#333" stroke-width="1.6" />
<text x="85.80" y="574.70" font-size="12" fill="#444" text-anchor="end" textLength="27.8" lengthAdjust="spacingAndGlyphs" >0.010</text>
<line x1="89.30" y1="510.50" x2="96.00" y2="510.50" stroke="#333" stroke-width="1.6" />
<text x="85.80" y="513.70" font-size="12" fill="#444" text-anchor="end" textLength="27.8" lengthAdjust="spacingAndGlyphs" >0.015</text>
<line x1="89.30" y1="449.50" x2="96.00" y2="449.50" stroke="#333" stroke-width="1.6" />
<text x="85.80" y="452.70" font-size="12" fill="#444" text-anchor="end" textLength="27.8" lengthAdjust="spacingAndGlyphs" >0.020</text>
<line x1="89.30" y1="388.50" x2="96.00" y2="388.50" stroke="#333" stroke-width="1.6" />
<text x="85.80" y="391.70" font-size="12" fill="#444" text-anchor="end" textLength="27.8" lengthAdjust="spacingAndGlyphs" >0.025</text>
<line x1="316.80" y1="693.50" x2="323.30" y2="693.50" stroke="#333" stroke-width="1.6" />
<text x="327.50" y="696.50" font-size="12" fill="#444" text-anchor="start" textLength="6.3" lengthAdjust="spacingAndGlyphs" >0</text>
<line x1="316.80" y1="642.67" x2="323.30" y2="642.67" stroke="#333" stroke-width="1.6" />
<text x="327.50" y="645.67" font-size="12" fill="#444" text-anchor="start" textLength="11.6" lengthAdjust="spacingAndGlyphs" >10</text>
<line x1="316.80" y1="591.84" x2="323.30" y2="591.84" stroke="#333" stroke-width="1.6" />
<text x="327.50" y="594.84" font-size="12" fill="#444" text-anchor="start" textLength="11.6" lengthAdjust="spacingAndGlyphs" >20</text>
<line x1="316.80" y1="541.01" x2="323.30" y2="541.01" stroke="#333" stroke-width="1.6" />
<text x="327.50" y="544.01" font-size="12" fill="#444" text-anchor="start" textLength="11.6" lengthAdjust="spacingAndGlyphs" >30</text>
<line x1="316.80" y1="490.18" x2="323.30" y2="490.18" stroke="#333" stroke-width="1.6" />
<text x="327.50" y="493.18" font-size="12" fill="#444" text-anchor="start" textLength="11.6" lengthAdjust="spacingAndGlyphs" >40</text>
<line x1="316.80" y1="439.35" x2="323.30" y2="439.35" stroke="#333" stroke-width="1.6" />
<text x="327.50" y="442.35" font-size="12" fill="#444" text-anchor="start" textLength="11.6" lengthAdjust="spacingAndGlyphs" >50</text>
<line x1="316.80" y1="388.52" x2="323.30" y2="388.52" stroke="#333" stroke-width="1.6" />
<text x="327.50" y="391.52" font-size="12" fill="#444" text-anchor="start" textLength="11.6" lengthAdjust="spacingAndGlyphs" >60</text>
<polyline points="132.3,434.6 205.9,485.7 279.5,581.6" fill="none" stroke="#999" stroke-width="4"/>
<circle cx="132.30" cy="434.60" r="3.1" fill="#fff" stroke="#222" stroke-width="1.5"/>
<circle cx="205.90" cy="485.70" r="3.1" fill="#fff" stroke="#222" stroke-width="1.5"/>
<circle cx="279.50" cy="581.60" r="3.1" fill="#fff" stroke="#222" stroke-width="1.5"/>
<text x="219.20" y="380.50" font-size="19.4" fill="#111" text-anchor="middle" font-weight="bold" >Sediment</text>
<text x="133.10" y="711.20" font-size="14" fill="#2b1f1f" text-anchor="middle" font-weight="bold" textLength="47.8" lengthAdjust="spacingAndGlyphs" >SP5856</text>
<text x="205.60" y="711.20" font-size="14" fill="#2b1f1f" text-anchor="middle" font-weight="bold" textLength="49.5" lengthAdjust="spacingAndGlyphs" >SM6038</text>
<text x="280.30" y="711.20" font-size="14" fill="#2b1f1f" text-anchor="middle" font-weight="bold" textLength="57" lengthAdjust="spacingAndGlyphs" >SM10898</text>
<text transform="translate(48,539.5) rotate(-90)" font-size="15.4" font-weight="bold" fill="#111" text-anchor="middle" xml:space="preserve" textLength="288" lengthAdjust="spacingAndGlyphs">Gene copy per 16S gene copy  (GP16S)</text>
<text transform="translate(357.5,540) rotate(-90)" font-size="15.4" font-weight="bold" fill="#111" text-anchor="middle">Richness of ARG subtypes</text>
<text x="27.00" y="374.60" font-size="36" fill="#000" text-anchor="start" font-weight="bold" >c</text>
<rect x="471.20" y="420.30" width="30.50" height="1.90" fill="#5B8BD0" />
<rect x="471.20" y="421.50" width="30.50" height="6.10" fill="#B5B5B5" />
<rect x="471.20" y="426.90" width="30.50" height="4.20" fill="#F5904F" />
<rect x="471.20" y="430.40" width="30.50" height="2.10" fill="#4595D2" />
<rect x="471.20" y="431.80" width="30.50" height="2.60" fill="#2E6B2E" />
<rect x="471.20" y="433.70" width="30.50" height="182.60" fill="#F7909F" />
<rect x="471.20" y="615.60" width="30.50" height="12.30" fill="#F5DFBB" />
<rect x="471.20" y="627.20" width="30.50" height="26.00" fill="#9E4015" />
<rect x="471.20" y="652.50" width="30.50" height="3.20" fill="#FF8A00" />
<rect x="471.20" y="655.00" width="30.50" height="1.70" fill="#5AAF3C" />
<rect x="471.20" y="656.00" width="30.50" height="17.60" fill="#4595D2" />
<rect x="471.20" y="672.90" width="30.50" height="4.00" fill="#72D0E0" />
<rect x="471.20" y="676.20" width="30.50" height="15.50" fill="#FF7700" />
<rect x="471.20" y="691.00" width="30.50" height="6.50" fill="#2F6EBE" />
<rect x="547.40" y="423.00" width="30.20" height="2.00" fill="#5B8BD0" />
<rect x="547.40" y="424.30" width="30.20" height="8.40" fill="#B5B5B5" />
<rect x="547.40" y="432.00" width="30.20" height="39.50" fill="#F5904F" />
<rect x="547.40" y="470.80" width="30.20" height="2.20" fill="#7a8a9a" />
<rect x="547.40" y="472.30" width="30.20" height="191.60" fill="#F7909F" />
<rect x="547.40" y="663.20" width="30.20" height="5.20" fill="#F5DFBB" />
<rect x="547.40" y="667.70" width="30.20" height="11.70" fill="#9E4015" />
<rect x="547.40" y="678.70" width="30.20" height="2.10" fill="#FF8A00" />
<rect x="547.40" y="680.10" width="30.20" height="1.90" fill="#5AAF3C" />
<rect x="547.40" y="681.30" width="30.20" height="5.40" fill="#4595D2" />
<rect x="547.40" y="686.00" width="30.20" height="4.10" fill="#72D0E0" />
<rect x="547.40" y="689.40" width="30.20" height="6.00" fill="#FF7700" />
<rect x="547.40" y="694.70" width="30.20" height="2.80" fill="#2F6EBE" />
<rect x="623.80" y="411.70" width="30.20" height="2.00" fill="#5B8BD0" />
<rect x="623.80" y="413.00" width="30.20" height="8.40" fill="#B5B5B5" />
<rect x="623.80" y="420.70" width="30.20" height="40.20" fill="#F5904F" />
<rect x="623.80" y="460.20" width="30.20" height="2.60" fill="#7a8a9a" />
<rect x="623.80" y="462.10" width="30.20" height="204.30" fill="#F7909F" />
<rect x="623.80" y="665.70" width="30.20" height="3.60" fill="#F5DFBB" />
<rect x="623.80" y="668.60" width="30.20" height="14.30" fill="#9E4015" />
<rect x="623.80" y="682.20" width="30.20" height="2.50" fill="#FF8A00" />
<rect x="623.80" y="684.00" width="30.20" height="3.60" fill="#4595D2" />
<rect x="623.80" y="686.90" width="30.20" height="3.60" fill="#72D0E0" />
<rect x="623.80" y="689.80" width="30.20" height="6.60" fill="#FF7700" />
<rect x="623.80" y="695.70" width="30.20" height="1.80" fill="#2F6EBE" />
<line x1="448.30" y1="391.80" x2="677.10" y2="391.80" stroke="#222" stroke-width="1.8" />
<line x1="448.30" y1="697.80" x2="677.10" y2="697.80" stroke="#222" stroke-width="1.8" />
<line x1="448.30" y1="391.80" x2="448.30" y2="698.50" stroke="#333" stroke-width="1.8" />
<line x1="677.10" y1="391.80" x2="677.10" y2="698.50" stroke="#333" stroke-width="1.8" />
<line x1="442.30" y1="697.80" x2="448.30" y2="697.80" stroke="#333" stroke-width="1.6" />
<text x="439.20" y="700.90" font-size="12" fill="#444" text-anchor="end" textLength="20.6" lengthAdjust="spacingAndGlyphs" >0.00</text>
<line x1="442.30" y1="646.80" x2="448.30" y2="646.80" stroke="#333" stroke-width="1.6" />
<text x="439.20" y="649.90" font-size="12" fill="#444" text-anchor="end" textLength="20.6" lengthAdjust="spacingAndGlyphs" >0.02</text>
<line x1="442.30" y1="595.80" x2="448.30" y2="595.80" stroke="#333" stroke-width="1.6" />
<text x="439.20" y="598.90" font-size="12" fill="#444" text-anchor="end" textLength="20.6" lengthAdjust="spacingAndGlyphs" >0.04</text>
<line x1="442.30" y1="544.80" x2="448.30" y2="544.80" stroke="#333" stroke-width="1.6" />
<text x="439.20" y="547.90" font-size="12" fill="#444" text-anchor="end" textLength="20.6" lengthAdjust="spacingAndGlyphs" >0.06</text>
<line x1="442.30" y1="493.80" x2="448.30" y2="493.80" stroke="#333" stroke-width="1.6" />
<text x="439.20" y="496.90" font-size="12" fill="#444" text-anchor="end" textLength="20.6" lengthAdjust="spacingAndGlyphs" >0.08</text>
<line x1="442.30" y1="442.80" x2="448.30" y2="442.80" stroke="#333" stroke-width="1.6" />
<text x="439.20" y="445.90" font-size="12" fill="#444" text-anchor="end" textLength="20.6" lengthAdjust="spacingAndGlyphs" >0.10</text>
<line x1="442.30" y1="391.80" x2="448.30" y2="391.80" stroke="#333" stroke-width="1.6" />
<text x="439.20" y="394.90" font-size="12" fill="#444" text-anchor="end" textLength="20.6" lengthAdjust="spacingAndGlyphs" >0.12</text>
<line x1="677.10" y1="697.80" x2="682.80" y2="697.80" stroke="#333" stroke-width="1.6" />
<text x="686.00" y="700.90" font-size="12" fill="#444" text-anchor="start" textLength="6.4" lengthAdjust="spacingAndGlyphs" >0</text>
<line x1="677.10" y1="663.80" x2="682.80" y2="663.80" stroke="#333" stroke-width="1.6" />
<text x="686.00" y="666.90" font-size="12" fill="#444" text-anchor="start" textLength="11.6" lengthAdjust="spacingAndGlyphs" >20</text>
<line x1="677.10" y1="629.80" x2="682.80" y2="629.80" stroke="#333" stroke-width="1.6" />
<text x="686.00" y="632.90" font-size="12" fill="#444" text-anchor="start" textLength="11.6" lengthAdjust="spacingAndGlyphs" >40</text>
<line x1="677.10" y1="595.80" x2="682.80" y2="595.80" stroke="#333" stroke-width="1.6" />
<text x="686.00" y="598.90" font-size="12" fill="#444" text-anchor="start" textLength="11.6" lengthAdjust="spacingAndGlyphs" >60</text>
<line x1="677.10" y1="561.80" x2="682.80" y2="561.80" stroke="#333" stroke-width="1.6" />
<text x="686.00" y="564.90" font-size="12" fill="#444" text-anchor="start" textLength="11.6" lengthAdjust="spacingAndGlyphs" >80</text>
<line x1="677.10" y1="527.80" x2="682.80" y2="527.80" stroke="#333" stroke-width="1.6" />
<text x="686.00" y="530.90" font-size="12" fill="#444" text-anchor="start" textLength="17.5" lengthAdjust="spacingAndGlyphs" >100</text>
<line x1="677.10" y1="493.80" x2="682.80" y2="493.80" stroke="#333" stroke-width="1.6" />
<text x="686.00" y="496.90" font-size="12" fill="#444" text-anchor="start" textLength="17.5" lengthAdjust="spacingAndGlyphs" >120</text>
<line x1="677.10" y1="459.80" x2="682.80" y2="459.80" stroke="#333" stroke-width="1.6" />
<text x="686.00" y="462.90" font-size="12" fill="#444" text-anchor="start" textLength="17.5" lengthAdjust="spacingAndGlyphs" >140</text>
<line x1="677.10" y1="425.80" x2="682.80" y2="425.80" stroke="#333" stroke-width="1.6" />
<text x="686.00" y="428.90" font-size="12" fill="#444" text-anchor="start" textLength="17.5" lengthAdjust="spacingAndGlyphs" >160</text>
<line x1="677.10" y1="391.80" x2="682.80" y2="391.80" stroke="#333" stroke-width="1.6" />
<text x="686.00" y="394.90" font-size="12" fill="#444" text-anchor="start" textLength="17.5" lengthAdjust="spacingAndGlyphs" >180</text>
<polyline points="485.7,437.3 562.3,454.7 638.7,482.0" fill="none" stroke="#999" stroke-width="4"/>
<circle cx="485.70" cy="437.30" r="3.1" fill="#fff" stroke="#222" stroke-width="1.5"/>
<circle cx="562.30" cy="454.70" r="3.1" fill="#fff" stroke="#222" stroke-width="1.5"/>
<circle cx="638.70" cy="482.00" r="3.1" fill="#fff" stroke="#222" stroke-width="1.5"/>
<text x="569.70" y="385.00" font-size="19.4" fill="#111" text-anchor="middle" font-weight="bold" >Water</text>
<text x="487.50" y="714.70" font-size="13.8" fill="#2b1f1f" text-anchor="middle" font-weight="bold" textLength="52.9" lengthAdjust="spacingAndGlyphs" >WM9600</text>
<text x="564.00" y="714.70" font-size="13.8" fill="#2b1f1f" text-anchor="middle" font-weight="bold" textLength="60" lengthAdjust="spacingAndGlyphs" >WM10400</text>
<text x="640.70" y="714.70" font-size="13.8" fill="#2b1f1f" text-anchor="middle" font-weight="bold" textLength="60.7" lengthAdjust="spacingAndGlyphs" >WM10500</text>
<text transform="translate(408.5,540.4) rotate(-90)" font-size="15.4" font-weight="bold" fill="#111" text-anchor="middle" xml:space="preserve" textLength="290" lengthAdjust="spacingAndGlyphs">Gene copy per 16S gene copy  (GP16S)</text>
<text transform="translate(720,546) rotate(-90)" font-size="15.4" font-weight="bold" fill="#111" text-anchor="middle">Richness of ARG subtypes</text>
<text x="384.40" y="376.00" font-size="37" fill="#000" text-anchor="start" font-weight="bold" >d</text>
<rect x="68.50" y="739.00" width="20.00" height="6.00" fill="#2F6EBE" />
<text x="98.30" y="746.60" font-size="13.3" fill="#3a3a3a" text-anchor="start" >vancomycin</text>
<rect x="68.50" y="760.60" width="20.00" height="6.00" fill="#B5B5B5" />
<text x="98.30" y="768.20" font-size="13.3" fill="#3a3a3a" text-anchor="start" >tetracycline</text>
<rect x="68.50" y="782.60" width="20.00" height="6.00" fill="#F5904F" />
<text x="98.30" y="790.20" font-size="13.3" fill="#3a3a3a" text-anchor="start" >sulfonamide</text>
<rect x="67.20" y="804.50" width="20.00" height="6.00" fill="#FFC800" />
<text x="97.00" y="812.10" font-size="13.3" fill="#3a3a3a" text-anchor="start" >trimethoprim</text>
<rect x="197.20" y="739.00" width="20.00" height="6.00" fill="#5B8BD0" />
<text x="227.00" y="746.60" font-size="13.3" fill="#3a3a3a" text-anchor="start" >rifamycin</text>
<rect x="197.20" y="760.60" width="20.00" height="6.00" fill="#2E6B2E" />
<text x="227.00" y="768.20" font-size="13.3" fill="#3a3a3a" text-anchor="start" >quinolone</text>
<rect x="197.20" y="782.60" width="20.00" height="6.00" fill="#FF4A0A" />
<text x="227.00" y="790.20" font-size="13.3" fill="#3a3a3a" text-anchor="start" >polymyxin</text>
<line x1="195.70" y1="807.50" x2="216.20" y2="807.50" stroke="#999" stroke-width="4" stroke-linecap="round"/>
<circle cx="205.70" cy="807.50" r="3.3" fill="#fff" stroke="#222" stroke-width="1.5"/>
<text x="225.70" y="812.10" font-size="13.3" fill="#3a3a3a" text-anchor="start" >subtype</text>
<rect x="326.10" y="739.00" width="20.00" height="6.00" fill="#F7909F" />
<text x="356.00" y="746.60" font-size="13.3" fill="#3a3a3a" text-anchor="start" >multidrug</text>
<rect x="326.10" y="760.60" width="20.00" height="6.00" fill="#F5DFBB" />
<text x="356.00" y="768.20" font-size="13.3" fill="#3a3a3a" text-anchor="start" >MLS</text>
<rect x="326.10" y="782.60" width="20.00" height="6.00" fill="#9E4015" />
<text x="356.00" y="790.20" font-size="13.3" fill="#3a3a3a" text-anchor="start" >kasugamycin</text>
<rect x="454.80" y="739.00" width="20.00" height="6.00" fill="#FF8A00" />
<text x="485.00" y="746.60" font-size="13.3" fill="#3a3a3a" text-anchor="start" >fosmidomycin</text>
<rect x="454.80" y="760.60" width="20.00" height="6.00" fill="#5AAF3C" />
<text x="485.00" y="768.20" font-size="13.3" fill="#3a3a3a" text-anchor="start" >fosfomycin</text>
<rect x="454.80" y="782.60" width="20.00" height="6.00" fill="#4595D2" />
<text x="485.00" y="790.20" font-size="13.3" fill="#3a3a3a" text-anchor="start" >chloramphenicol</text>
<rect x="585.40" y="739.00" width="20.00" height="6.00" fill="#72D0E0" />
<text x="615.50" y="746.60" font-size="13.3" fill="#3a3a3a" text-anchor="start" >beta-lactam</text>
<rect x="585.40" y="760.60" width="20.00" height="6.00" fill="#FF7700" />
<text x="615.50" y="768.20" font-size="13.3" fill="#3a3a3a" text-anchor="start" >bacitracin</text>
<rect x="585.40" y="782.60" width="20.00" height="6.00" fill="#2F5FB0" />
<text x="615.50" y="790.20" font-size="13.3" fill="#3a3a3a" text-anchor="start" >aminoglycoside</text>
<rect x="817.50" y="390.40" width="249.50" height="248.50" fill="#fff" stroke="#3a2e2e" stroke-width="1.6"/>
<line x1="807.30" y1="407.10" x2="817.50" y2="407.10" stroke="#3a2e2e" stroke-width="1.4" />
<text x="801.50" y="411.30" font-size="11.2" fill="#444" text-anchor="end" >4</text>
<line x1="807.30" y1="436.20" x2="817.50" y2="436.20" stroke="#3a2e2e" stroke-width="1.4" />
<text x="801.50" y="440.40" font-size="11.2" fill="#444" text-anchor="end" >3</text>
<line x1="807.30" y1="465.30" x2="817.50" y2="465.30" stroke="#3a2e2e" stroke-width="1.4" />
<text x="801.50" y="469.50" font-size="11.2" fill="#444" text-anchor="end" >2</text>
<line x1="807.30" y1="494.40" x2="817.50" y2="494.40" stroke="#3a2e2e" stroke-width="1.4" />
<text x="801.50" y="498.60" font-size="11.2" fill="#444" text-anchor="end" >1</text>
<line x1="807.30" y1="523.50" x2="817.50" y2="523.50" stroke="#3a2e2e" stroke-width="1.4" />
<text x="801.50" y="527.70" font-size="11.2" fill="#444" text-anchor="end" >0</text>
<line x1="807.30" y1="552.60" x2="817.50" y2="552.60" stroke="#3a2e2e" stroke-width="1.4" />
<text x="801.50" y="556.80" font-size="11.2" fill="#444" text-anchor="end" >-1</text>
<line x1="807.30" y1="581.70" x2="817.50" y2="581.70" stroke="#3a2e2e" stroke-width="1.4" />
<text x="801.50" y="585.90" font-size="11.2" fill="#444" text-anchor="end" >-2</text>
<line x1="807.30" y1="610.80" x2="817.50" y2="610.80" stroke="#3a2e2e" stroke-width="1.4" />
<text x="801.50" y="615.00" font-size="11.2" fill="#444" text-anchor="end" >-3</text>
<line x1="864.00" y1="638.90" x2="864.00" y2="648.90" stroke="#3a2e2e" stroke-width="1.4" />
<text x="864.00" y="663.80" font-size="11.2" fill="#444" text-anchor="middle" >-2</text>
<line x1="913.00" y1="638.90" x2="913.00" y2="648.90" stroke="#3a2e2e" stroke-width="1.4" />
<text x="913.00" y="663.80" font-size="11.2" fill="#444" text-anchor="middle" >0</text>
<line x1="962.00" y1="638.90" x2="962.00" y2="648.90" stroke="#3a2e2e" stroke-width="1.4" />
<text x="962.00" y="663.80" font-size="11.2" fill="#444" text-anchor="middle" >2</text>
<line x1="1011.00" y1="638.90" x2="1011.00" y2="648.90" stroke="#3a2e2e" stroke-width="1.4" />
<text x="1011.00" y="663.80" font-size="11.2" fill="#444" text-anchor="middle" >4</text>
<line x1="1060.00" y1="638.90" x2="1060.00" y2="648.90" stroke="#3a2e2e" stroke-width="1.4" />
<text x="1060.00" y="663.80" font-size="11.2" fill="#444" text-anchor="middle" >6</text>
<circle cx="860.00" cy="429.60" r="3.6" fill="#E0001A" />
<circle cx="835.70" cy="525.20" r="4.8" fill="#9B3F15" />
<circle cx="835.70" cy="599.10" r="4.8" fill="#F07A1A" />
<circle cx="994.80" cy="504.30" r="4.8" fill="#4CC6B0" />
<circle cx="969.10" cy="522.60" r="4.8" fill="#1A3E78" />
<circle cx="980.00" cy="562.60" r="4.8" fill="#00A8B0" />
<text x="941.70" y="689.80" font-size="15.5" fill="#222" text-anchor="middle" font-weight="bold" textLength="88.3" lengthAdjust="spacingAndGlyphs" >PC1 (50.2%)</text>
<text transform="translate(782.5,517.2) rotate(-90)" font-size="15.5" font-weight="bold" fill="#222" text-anchor="middle" textLength="89" lengthAdjust="spacingAndGlyphs">PC2 (20.4%)</text>
<text x="762.60" y="379.60" font-size="36" fill="#000" text-anchor="start" font-weight="bold" >e</text>
<rect x="817.10" y="724.90" width="16.60" height="16.60" fill="#9B3F15" />
<text x="838.40" y="739.10" font-size="13.6" fill="#333" text-anchor="start" >SP5856</text>
<rect x="817.10" y="749.80" width="16.60" height="16.60" fill="#F07A1A" />
<text x="838.40" y="764.00" font-size="13.6" fill="#333" text-anchor="start" >SM6038</text>
<rect x="817.10" y="774.70" width="16.60" height="16.60" fill="#E0001A" />
<text x="838.40" y="788.90" font-size="13.6" fill="#333" text-anchor="start" >SM10898</text>
<rect x="960.20" y="724.90" width="16.80" height="16.60" fill="#00A8B0" />
<text x="981.50" y="739.10" font-size="13.6" fill="#333" text-anchor="start" >WM9600</text>
<rect x="960.20" y="749.80" width="16.80" height="16.60" fill="#1A3E78" />
<text x="981.50" y="764.00" font-size="13.6" fill="#333" text-anchor="start" >WM10400</text>
<rect x="960.20" y="774.70" width="16.80" height="16.60" fill="#4CC6B0" />
<text x="981.50" y="788.90" font-size="13.6" fill="#333" text-anchor="start" >WM10500</text>
<line x1="906.80" y1="723.30" x2="906.80" y2="793.90" stroke="#111" stroke-width="2.6" />
<line x1="1050.20" y1="725.10" x2="1050.20" y2="791.30" stroke="#111" stroke-width="2.6" />
<text transform="translate(928.5,757) rotate(-90)" font-size="17" font-weight="bold" fill="#111" text-anchor="middle" textLength="65" lengthAdjust="spacingAndGlyphs">Sediment</text>
<text transform="translate(1072,757) rotate(-90)" font-size="17" font-weight="bold" fill="#111" text-anchor="middle" textLength="41.5" lengthAdjust="spacingAndGlyphs">Water</text>
<text x="24.20" y="54.40" font-size="36" fill="#000" text-anchor="start" font-weight="bold" >a</text>
<text x="658.40" y="54.50" font-size="36" fill="#000" text-anchor="start" font-weight="bold" >b</text>
<rect x="0.00" y="0.00" width="1080.00" height="46.00" fill="#000" />
<rect x="0.00" y="0.00" width="32.00" height="339.00" fill="#000" />
<rect x="0.00" y="0.00" width="28.00" height="828.00" fill="#000" />
</svg>
</body></html>
